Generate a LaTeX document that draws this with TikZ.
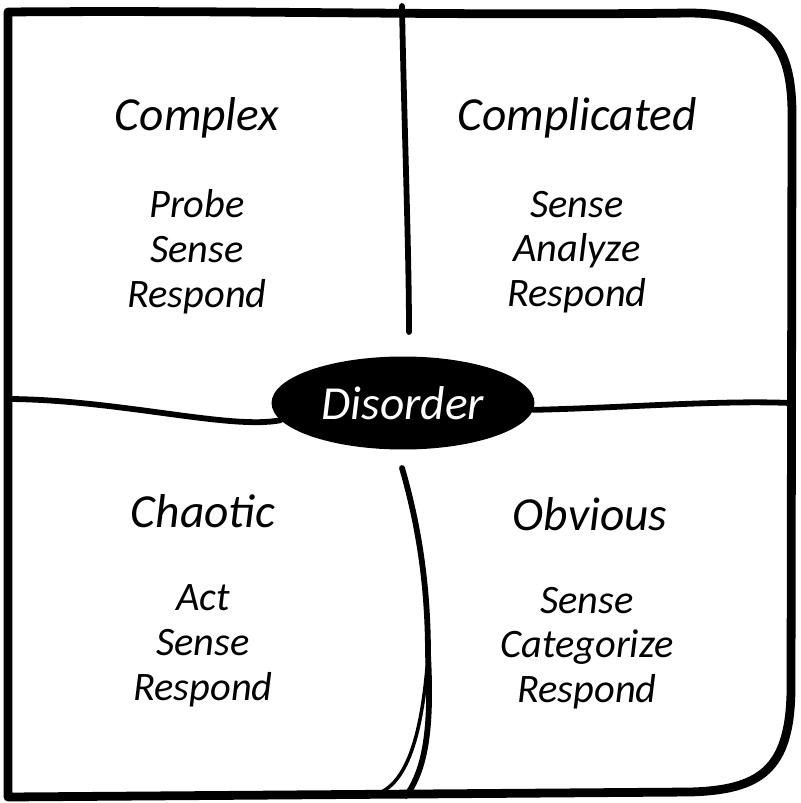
\documentclass[tikz,border=0pt]{standalone}
\usepackage{fontspec}
\setmainfont{Carlito}
\usetikzlibrary{shapes.geometric}

\begin{document}
\begin{tikzpicture}[x=0.02cm, y=-0.02cm,
  domainhead/.style={font=\fontsize{27}{32}\selectfont\itshape},
  domainsteps/.style={font=\fontsize{23}{25.5}\selectfont\itshape, align=center},
  frameline/.style={line width=5pt, line cap=round, line join=round},
  divider/.style={line width=3.3pt, line cap=round},
  thindivider/.style={line width=2pt, line cap=round}]
  \useasboundingbox (0,0) rectangle (800,803);

  % Outer frame
  \draw[frameline] (8,797) -- (8,12) .. controls (250,10) and (450,16) .. (690,13)
    .. controls (770,14) and (792,45) .. (792,115) -- (791,690)
    .. controls (790,770) and (760,790) .. (690,792) -- cycle;

  % Centre
  \node[ellipse, fill=black, minimum width=5.26cm, minimum height=1.86cm, inner sep=0pt,
    text=white, domainhead] (disorder) at (403,403) {Disorder};

  % Dividers
  \coordinate (topend) at (402,6);
  \coordinate (topmid) at (409,332);
  \coordinate (leftend) at (10,399);
  \coordinate (rightend) at (790,403);
  \coordinate (lowtop) at (402,468);
  \coordinate (lowsplit) at (428,655);
  \coordinate (lowright) at (406,796);
  \coordinate (lowleft) at (368,796);

  \draw[divider] (topend) .. controls (404,120) and (409,250) .. (topmid);
  \draw[divider] (leftend) .. controls (120,400) and (230,430) .. (disorder.188);
  \draw[divider] (disorder.357) .. controls (620,408) and (720,400) .. (rightend);
  \draw[divider] (lowtop) .. controls (420,530) and (428,590) .. (lowsplit)
    .. controls (432,730) and (425,770) .. (lowright);
  \draw[thindivider] (lowsplit) .. controls (422,740) and (405,792) .. (lowleft);

  % Complex
  \node[domainhead] (complex) at (197,118) {Complex};
  \node[domainsteps] (complexsteps) at (197,252) {Probe\\Sense\\Respond};

  % Complicated
  \node[domainhead] (complicated) at (577,118) {Complicated};
  \node[domainsteps] (complicatedsteps) at (577,252) {Sense\\Analyze\\Respond};

  % Chaotic
  \node[domainhead] (chaotic) at (203,511) {Chaotic};
  \node[domainsteps] (chaoticsteps) at (203,646) {Act\\Sense\\Respond};

  % Obvious
  \node[domainhead] (obvious) at (590,514) {Obvious};
  \node[domainsteps] (obvioussteps) at (587,648) {Sense\\Categorize\\Respond};
\end{tikzpicture}
\end{document}
